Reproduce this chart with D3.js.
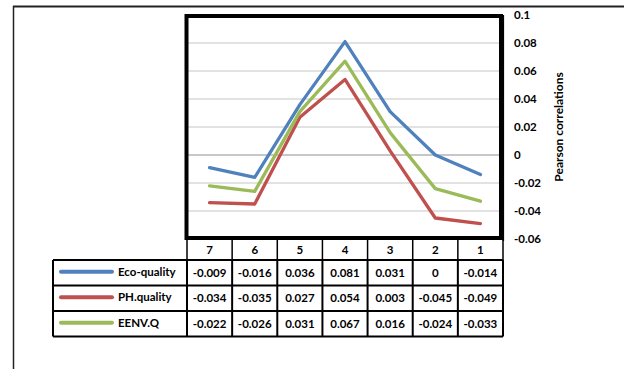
<!DOCTYPE html>
<html>
<head>
<meta charset="utf-8">
<script src="https://cdn.jsdelivr.net/npm/d3@7"></script>
<style>
  html, body { margin: 0; padding: 0; background: #fff; }
  svg { display: block; font-family: Lato, "Open Sans", sans-serif; font-weight: bold; }
</style>
</head>
<body>
<svg id="chart" width="624" height="369"></svg>
<script>
// Categories along the x axis (shown right-to-left as 7 ... 1)
const categories = ["7", "6", "5", "4", "3", "2", "1"];

// Pearson correlation values per series, in category order
const ecoQuality = [-0.009, -0.016, 0.036, 0.081, 0.031, 0, -0.014];
const phQuality  = [-0.034, -0.035, 0.027, 0.054, 0.003, -0.045, -0.049];
const eenvQ      = [-0.022, -0.026, 0.031, 0.067, 0.016, -0.024, -0.033];

const seriesNames  = ["Eco-quality", "PH.quality", "EENV.Q"];
const seriesColors = ["#4F81BD", "#C0504D", "#9BBB59"];

// Value-axis tick labels
const yTicks = [0.1, 0.08, 0.06, 0.04, 0.02, 0, -0.02, -0.04, -0.06];
const yTitle = "Pearson correlations";

const series = [ecoQuality, phQuality, eenvQ].map((values, i) => ({
  name: seriesNames[i], color: seriesColors[i], values
}));

const svg = d3.select("#chart");

// Plot geometry
const plotLeft = 187, plotRight = 503, plotTop = 15, plotBottom = 239;
const legendLeft = 53;
const headerH = 21, rowH = 25.5;
const fontSize = 11.5;

const x = d3.scaleBand().domain(categories).range([plotLeft, plotRight]);
const y = d3.scaleLinear().domain([-0.06, 0.1]).range([plotBottom, plotTop]);

// Outer frame lines
svg.append("line").attr("x1", 13).attr("x2", 624).attr("y1", 6.5).attr("y2", 6.5)
  .attr("stroke", "#222").attr("stroke-width", 2);
svg.append("line").attr("x1", 13.5).attr("x2", 13.5).attr("y1", 6).attr("y2", 369)
  .attr("stroke", "#222").attr("stroke-width", 1.5);

// Horizontal gridlines
svg.append("g").selectAll("line")
  .data(yTicks.filter(t => t !== 0.1 && t !== -0.06))
  .join("line")
  .attr("x1", plotLeft).attr("x2", plotRight - 2)
  .attr("y1", d => y(d)).attr("y2", d => y(d))
  .attr("stroke", d => d === 0 ? "#b5b5b5" : "#d9d9d9")
  .attr("stroke-width", d => d === 0 ? 1.6 : 1.4);

// Value axis on the right side
const yAxis = d3.axisRight(y)
  .tickValues(yTicks)
  .tickSize(0)
  .tickPadding(11)
  .tickFormat(d => d === 0 ? "0" : String(+d.toFixed(2)));
const yAxisG = svg.append("g")
  .attr("transform", `translate(${plotRight},0)`)
  .call(yAxis);
yAxisG.select(".domain").attr("stroke", "#000").attr("stroke-width", 1.2)
  .attr("d", `M0.5,${plotTop}V${plotBottom + 2}`);
yAxisG.selectAll("text")
  .attr("font-family", "Lato, 'Open Sans', sans-serif")
  .attr("font-weight", "bold")
  .attr("font-size", fontSize)
  .attr("fill", "#000");

// Axis title
svg.append("text")
  .attr("transform", `translate(563,127) rotate(-90)`)
  .attr("text-anchor", "middle")
  .attr("font-size", 12)
  .attr("font-weight", "bold")
  .attr("fill", "#000")
  .text(yTitle);

// Series lines through the category centres
const line = d3.line()
  .x((d, i) => x(categories[i]) + x.bandwidth() / 2)
  .y(d => y(d));
svg.append("g").selectAll("path")
  .data(series)
  .join("path")
  .attr("d", d => line(d.values))
  .attr("fill", "none")
  .attr("stroke", d => d.color)
  .attr("stroke-width", 3.3)
  .attr("stroke-linejoin", "round")
  .attr("stroke-linecap", "round");

// Plot area border
svg.append("rect")
  .attr("x", plotLeft - 0.5).attr("y", plotTop + 1)
  .attr("width", plotRight - plotLeft - 1.5).attr("height", plotBottom - plotTop - 2)
  .attr("fill", "none").attr("stroke", "#000").attr("stroke-width", 4);

// Data table: header row with category names
const tableTop = plotBottom;
const header = svg.append("g");
header.selectAll("line.v")
  .data(d3.range(categories.length + 1))
  .join("line")
  .attr("x1", i => plotLeft + i * x.step()).attr("x2", i => plotLeft + i * x.step())
  .attr("y1", tableTop).attr("y2", tableTop + headerH)
  .attr("stroke", "#000").attr("stroke-width", 1.5);
header.selectAll("text")
  .data(categories)
  .join("text")
  .attr("x", d => x(d) + x.bandwidth() / 2)
  .attr("y", tableTop + headerH / 2 + 4)
  .attr("text-anchor", "middle")
  .attr("font-size", fontSize)
  .text(d => d);

// Data table body: one row per series
const bodyTop = tableTop + headerH;
const body = svg.append("g");
series.forEach((s, r) => {
  const rowY = bodyTop + r * rowH;
  const g = body.append("g");
  // legend key
  g.append("line")
    .attr("x1", 61).attr("x2", 112)
    .attr("y1", rowY + rowH / 2 - 1).attr("y2", rowY + rowH / 2 - 1)
    .attr("stroke", s.color).attr("stroke-width", 4).attr("stroke-linecap", "round");
  g.append("text")
    .attr("x", 118).attr("y", rowY + rowH / 2 + 3)
    .attr("font-size", fontSize)
    .text(s.name);
  // values
  g.selectAll("text.v")
    .data(s.values)
    .join("text")
    .attr("class", "v")
    .attr("x", (d, i) => x(categories[i]) + x.bandwidth() / 2)
    .attr("y", rowY + rowH / 2 + 4)
    .attr("text-anchor", "middle")
    .attr("font-size", fontSize)
    .text(d => String(d));
});

// Table grid
const bodyBottom = bodyTop + series.length * rowH;
const grid = svg.append("g").attr("stroke", "#000").attr("stroke-width", 2).attr("fill", "none");
d3.range(series.length + 1).forEach(r => {
  grid.append("line")
    .attr("x1", legendLeft).attr("x2", plotRight)
    .attr("y1", bodyTop + r * rowH).attr("y2", bodyTop + r * rowH);
});
grid.append("line").attr("x1", legendLeft).attr("x2", legendLeft)
  .attr("y1", bodyTop).attr("y2", bodyBottom);
d3.range(categories.length + 1).forEach(i => {
  grid.append("line")
    .attr("x1", plotLeft + i * x.step()).attr("x2", plotLeft + i * x.step())
    .attr("y1", bodyTop).attr("y2", bodyBottom);
});
</script>
</body>
</html>
